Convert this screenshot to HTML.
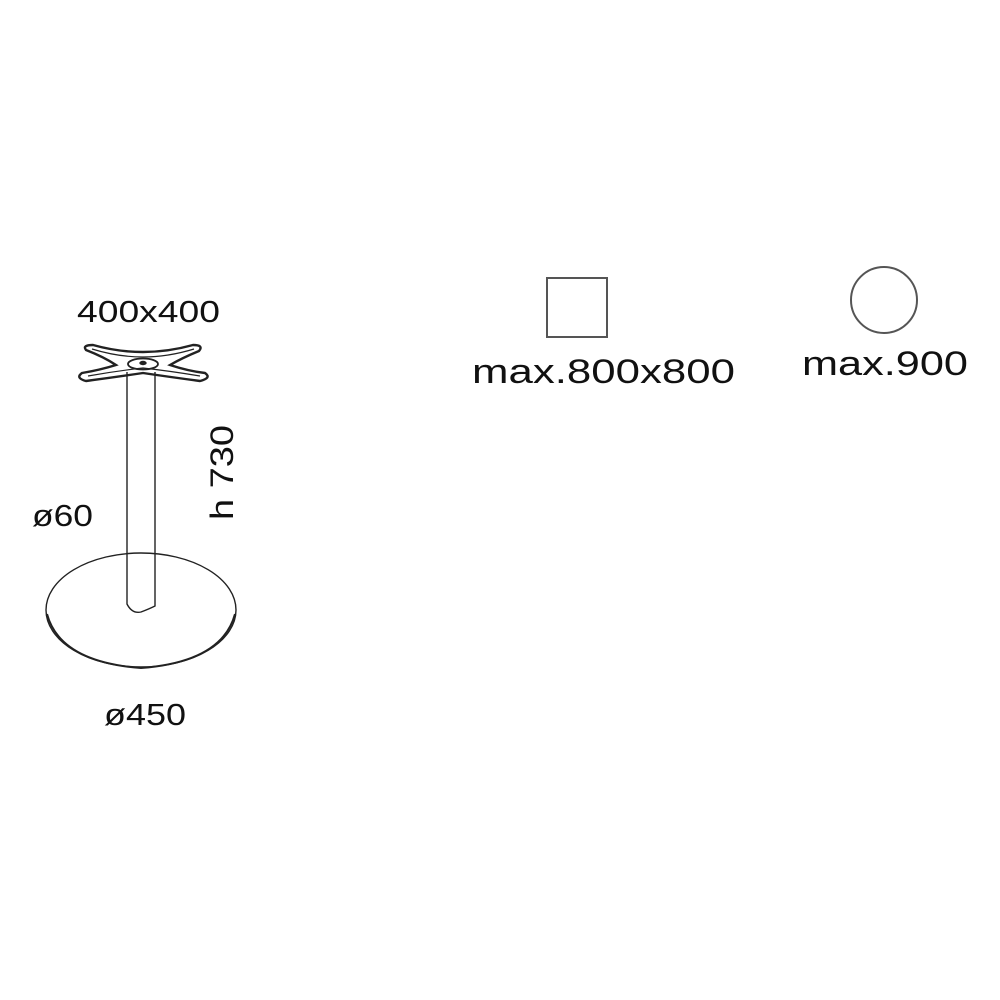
<!DOCTYPE html>
<html><head><meta charset="utf-8"><style>
html,body{margin:0;padding:0;background:#fff;}
svg{display:block;}
text{font-family:"Liberation Sans",sans-serif;fill:#111;}
</style></head><body>
<svg width="1000" height="1000" viewBox="0 0 1000 1000" xmlns="http://www.w3.org/2000/svg">
<g fill="none" stroke="#222" stroke-width="1.4">
  <ellipse cx="141" cy="610" rx="95" ry="57"/>
  <path d="M47 614 Q60 662 141 668 Q222 662 235 614" stroke-width="2"/>
  <path d="M127 372 L127 604 Q132 614 141 612 Q149 609 155 606 L155 372"/>
  <path d="M86 350 Q82 345 93 345 Q118 352 143 352 Q168 352 193 345 Q204 345 199 351 Q182 358 170 365 Q188 371 205 373 Q212 378 200 381 Q170 377 143 373 Q116 377 86 381 Q75 378 82 373 Q100 370 116 365 Q104 357 86 350 Z" stroke-width="2.4"/>
  <path d="M92 349 Q118 357 143 357 Q168 357 194 349 M88 376 Q116 371 143 368 Q170 371 200 376" stroke-width="1.2"/>
  <ellipse cx="143" cy="364" rx="15" ry="5.5" stroke-width="1.8"/>
  <ellipse cx="143" cy="363" rx="3" ry="1.5" fill="#222"/>
  <rect x="547" y="278" width="60" height="59" stroke="#555" stroke-width="2"/>
  <circle cx="884" cy="300" r="33" stroke="#555" stroke-width="2"/>
</g>
<text x="77" y="322" font-size="31" textLength="143" lengthAdjust="spacingAndGlyphs">400x400</text>
<text x="32" y="526" font-size="31" textLength="61" lengthAdjust="spacingAndGlyphs">ø60</text>
<text x="104" y="725" font-size="31" textLength="82" lengthAdjust="spacingAndGlyphs">ø450</text>
<text transform="translate(233,520) rotate(-90)" font-size="32" textLength="95" lengthAdjust="spacingAndGlyphs">h 730</text>
<text x="472" y="383" font-size="34" textLength="263" lengthAdjust="spacingAndGlyphs">max.800x800</text>
<text x="802" y="375" font-size="34" textLength="166" lengthAdjust="spacingAndGlyphs">max.900</text>
</svg>
</body></html>
